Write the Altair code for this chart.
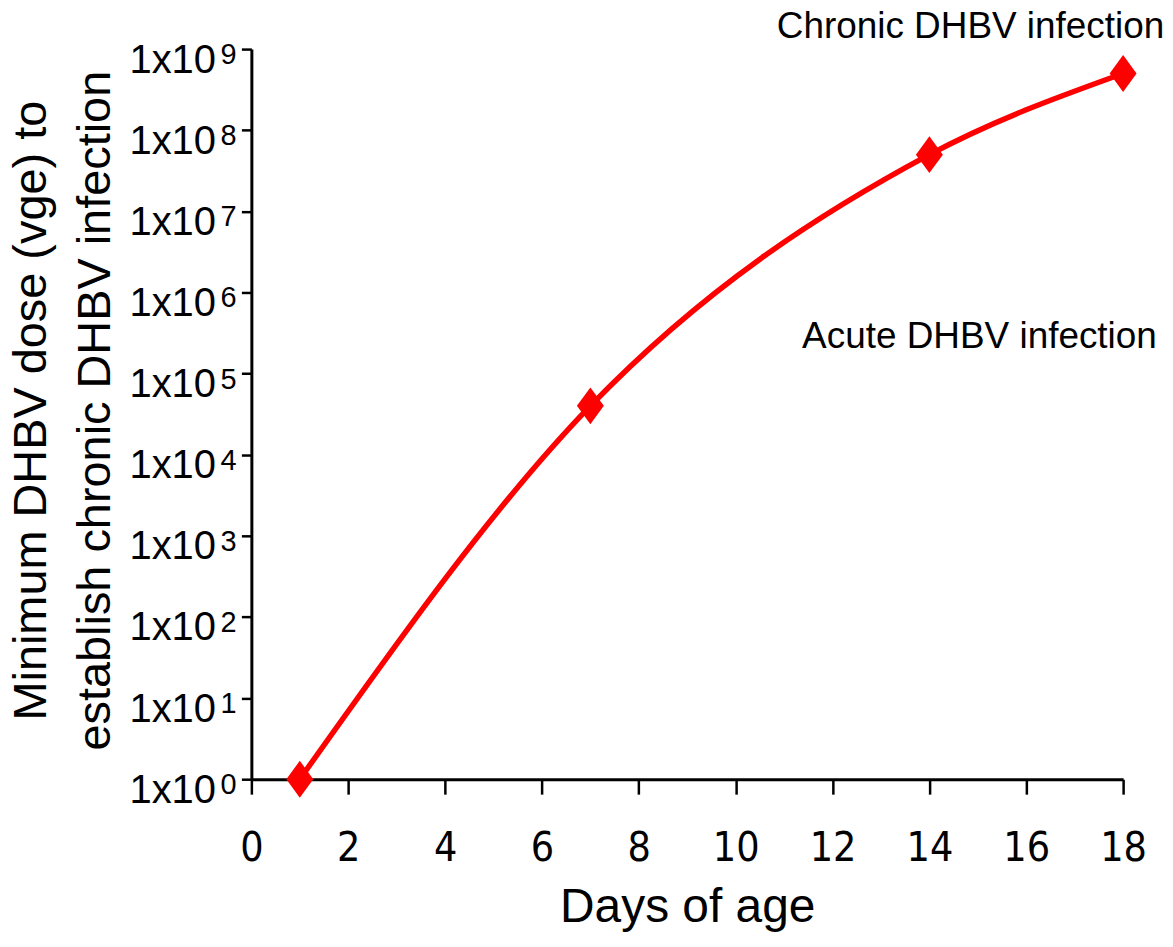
import json
import altair as alt
import pandas as pd

# ---- data ----
days = [1, 7, 14, 18]
min_dose = [1, 4e4, 5e7, 5e8]

x_ticks = [0, 2, 4, 6, 8, 10, 12, 14, 16, 18]
y_ticks = [1, 10, 100, 1e3, 1e4, 1e5, 1e6, 1e7, 1e8, 1e9]
y_tick_base = "1x10"
y_tick_exponents = ["0", "1", "2", "3", "4", "5", "6", "7", "8", "9"]

y_title = ["Minimum DHBV dose (vge) to", "establish chronic DHBV infection"]
x_title = "Days of age"
note_chronic = "Chronic DHBV infection"
note_acute = "Acute DHBV infection"

df = pd.DataFrame({"day": days, "dose": min_dose})
exp_df = pd.DataFrame({"dose": y_ticks, "exp": y_tick_exponents})

FONT = "Liberation Sans, Arial, Helvetica, sans-serif"
NARROW = "DejaVu Sans Condensed, Liberation Sans Narrow, Arial Narrow, sans-serif"
RED = "#ff0000"

y_scale = alt.Scale(type="log", domain=[1, 1e9], nice=False)
x_scale = alt.Scale(domain=[0, 18], nice=False, zero=False)

x_enc = alt.X(
    "day:Q",
    scale=x_scale,
    axis=alt.Axis(
        values=x_ticks, title=x_title, grid=False,
        tickSize=15, labelPadding=67, labelBaseline="alphabetic",
        labelFont=NARROW, labelFontSize=41, labelOverlap=False, labelFlush=False,
        titleFont=FONT, titleFontSize=48, titleFontWeight="normal",
        titleBaseline="alphabetic", titleY=143,
    ),
)
y_axis = alt.Axis(
    values=y_ticks, labelExpr=json.dumps(y_tick_base), title=y_title, grid=False,
    tickSize=10, labelPadding=26, labelFont=FONT, labelFontSize=40,
    labelBaseline="alphabetic", labelOffset=23, labelAlign="right",
    labelOverlap=False, labelFlush=False,
    titleFont=FONT, titleFontSize=47, titleFontWeight="normal",
    titleAngle=270, titleX=-206, titleY=362, titleAlign="center",
    titleBaseline="alphabetic", titleLineHeight=64,
)
y_enc = alt.Y("dose:Q", scale=y_scale, axis=y_axis)

base = alt.Chart(df)
line = base.mark_line(color=RED, strokeWidth=5.5, interpolate="monotone").encode(x=x_enc, y=y_enc)
pts = base.mark_point(
    shape="M-0.73,0L0,-1L0.73,0L0,1Z", filled=True, size=1369, color=RED, opacity=1
).encode(x=x_enc, y=y_enc)

# superscript exponents of the y tick labels
exps = alt.Chart(exp_df).mark_text(
    font=FONT, fontSize=29, color="black", align="left", baseline="alphabetic", dy=15
).encode(
    text="exp:N",
    x=alt.value(-31),
    y=y_enc,
)

ann1 = alt.Chart(pd.DataFrame({"t": [note_chronic]})).mark_text(
    font=FONT, fontSize=37, color="black", align="center", baseline="alphabetic"
).encode(text="t:N", x=alt.value(721), y=alt.value(-11))
ann2 = alt.Chart(pd.DataFrame({"t": [note_acute]})).mark_text(
    font=FONT, fontSize=37, color="black", align="center", baseline="alphabetic"
).encode(text="t:N", x=alt.value(730), y=alt.value(300))

chart = (
    alt.layer(line, pts, exps, ann1, ann2)
    .properties(
        width=874, height=732, autosize="none",
        padding={"left": 244, "top": 40, "right": 42, "bottom": 152},
    )
    .configure_view(stroke=None)
    .configure_axis(
        domainColor="black", domainWidth=3, tickColor="black", tickWidth=2.5,
        labelColor="black", titleColor="black",
    )
)

chart.save("out.html", embed_options={"renderer": "svg", "actions": False})
